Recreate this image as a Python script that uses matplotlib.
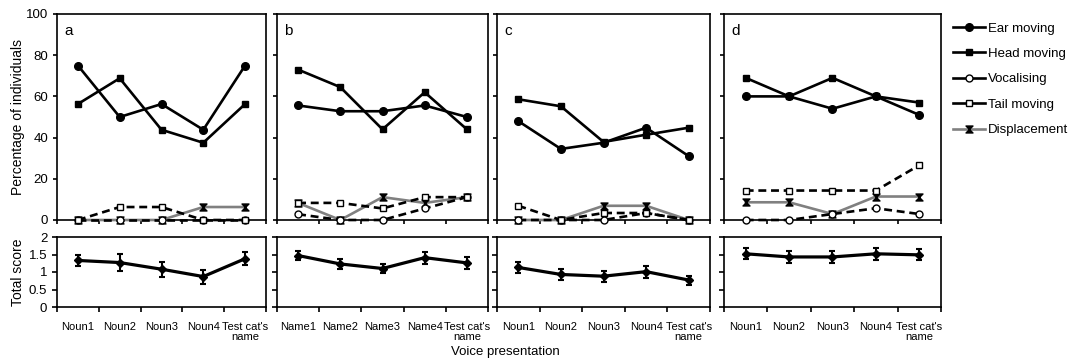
import matplotlib
matplotlib.use('Agg')
import matplotlib.pyplot as plt
import numpy as np
from matplotlib.path import Path
from matplotlib.lines import Line2D

plt.rcParams['font.family'] = ['Liberation Sans', 'DejaVu Sans']

# category labels per panel
labels_a = ['Noun1', 'Noun2', 'Noun3', 'Noun4', "Test cat's\nname"]
labels_b = ['Name1', 'Name2', 'Name3', 'Name4', "Test cat's\nname"]
labels_c = ['Noun1', 'Noun2', 'Noun3', 'Noun4', "Test cat's\nname"]
labels_d = ['Noun1', 'Noun2', 'Noun3', 'Noun4', "Test cat's\nname"]

# percentage of individuals (top row)
ear_a = [75, 50, 56.3, 43.8, 75]
head_a = [56.3, 68.8, 43.8, 37.5, 56.3]
voc_a = [0, 0, 0, 0, 0]
tail_a = [0, 6.3, 6.3, 0, 0]
disp_a = [0, 0, 0, 6.3, 6.3]

ear_b = [55.6, 52.8, 52.8, 55.6, 50]
head_b = [73, 64.5, 44, 62, 44]
voc_b = [2.8, 0, 0, 5.6, 11.1]
tail_b = [8.3, 8.3, 5.6, 11.1, 11.1]
disp_b = [8.3, 0, 11.1, 8.3, 11.1]

ear_c = [48, 34.5, 37.5, 44.8, 31]
head_c = [58.6, 55.2, 37.9, 41.4, 44.8]
voc_c = [0, 0, 0, 3.4, 0]
tail_c = [6.9, 0, 3.4, 3.4, 0]
disp_c = [0, 0, 6.9, 6.9, 0]

ear_d = [60, 60, 54, 60, 51]
head_d = [69, 60, 69, 60, 57]
voc_d = [0, 0, 2.9, 5.7, 2.9]
tail_d = [14.3, 14.3, 14.3, 14.3, 26.6]
disp_d = [8.6, 8.6, 2.9, 11.4, 11.4]

# total score (bottom row) mean and error
score_a = [1.33, 1.27, 1.08, 0.87, 1.38]
err_a = [0.17, 0.25, 0.22, 0.2, 0.18]
score_b = [1.47, 1.23, 1.1, 1.41, 1.26]
err_b = [0.13, 0.14, 0.14, 0.17, 0.16]
score_c = [1.13, 0.93, 0.88, 1.01, 0.77]
err_c = [0.15, 0.15, 0.16, 0.17, 0.13]
score_d = [1.52, 1.43, 1.43, 1.52, 1.49]
err_d = [0.16, 0.16, 0.16, 0.18, 0.16]

W, H = 1083, 364
fig = plt.figure(figsize=(W / 100, H / 100), dpi=100)

def px_axes(x0, y0, x1, y1):
    return fig.add_axes([x0 / W, 1 - y1 / H, (x1 - x0) / W, (y1 - y0) / H])

hourglass = Path([(-1, 1), (1, 1), (-1, -1), (1, -1), (-1, 1)],
                 [Path.MOVETO, Path.LINETO, Path.LINETO, Path.LINETO, Path.CLOSEPOLY])

lw = 1.9
styles = {
    'ear': dict(color='black', lw=lw, marker='o', ms=5.5, mfc='black', mec='black'),
    'head': dict(color='black', lw=lw, marker='s', ms=4.8, mfc='black', mec='black'),
    'voc': dict(color='black', lw=lw, ls=(0, (3, 1.8)), marker='o', ms=5, mfc='white', mec='black', mew=1),
    'tail': dict(color='black', lw=lw, ls=(0, (3, 1.8)), marker='s', ms=5, mfc='white', mec='black', mew=1),
    'disp': dict(color='#808080', lw=lw, marker=hourglass, ms=5, mfc='black', mec='black'),
}

top_pos = [(57, 14, 266, 220), (277, 14, 488, 220), (497, 14, 710, 220), (724, 14, 941, 220)]
bot_pos = [(57, 237, 266, 307), (277, 237, 488, 307), (497, 237, 710, 307), (724, 237, 941, 307)]

top_data = [
    (ear_a, head_a, voc_a, tail_a, disp_a),
    (ear_b, head_b, voc_b, tail_b, disp_b),
    (ear_c, head_c, voc_c, tail_c, disp_c),
    (ear_d, head_d, voc_d, tail_d, disp_d),
]
bot_data = [(score_a, err_a), (score_b, err_b), (score_c, err_c), (score_d, err_d)]
cat_labels = [labels_a, labels_b, labels_c, labels_d]
letters = ['a', 'b', 'c', 'd']
x = np.arange(5) + 0.5

for i in range(4):
    ax = px_axes(*top_pos[i])
    ear, head, voc, tail, disp = top_data[i]
    ax.plot(x, disp, clip_on=False, zorder=3, **styles['disp'])
    ax.plot(x, voc, clip_on=False, zorder=4, **styles['voc'])
    ax.plot(x, tail, clip_on=False, zorder=4, **styles['tail'])
    ax.plot(x, head, clip_on=False, zorder=5, **styles['head'])
    ax.plot(x, ear, clip_on=False, zorder=5, **styles['ear'])
    ax.set_xlim(0, 5)
    ax.set_ylim(0, 100)
    ax.set_xticks(np.arange(6))
    ax.set_xticklabels([])
    ax.set_yticks([0, 20, 40, 60, 80, 100])
    ax.tick_params(axis='both', direction='out', length=3, width=1.2, labelsize=9.5)
    if i > 0:
        ax.set_yticklabels([])
    for s in ax.spines.values():
        s.set_linewidth(1.2)
    ax.text(0.035, 0.95, letters[i], transform=ax.transAxes, fontsize=11, va='top', ha='left')

    bx = px_axes(*bot_pos[i])
    sc, er = bot_data[i]
    bx.errorbar(x, sc, yerr=er, color='black', lw=2.3, marker='D', ms=4,
                capsize=2.5, capthick=1.5, elinewidth=1.5)
    bx.set_xlim(0, 5)
    bx.set_ylim(0, 2)
    bx.set_yticks([0, 0.5, 1, 1.5, 2])
    bx.set_yticklabels(['0', '0.5', '1', '1.5', '2'])
    bx.set_xticks(np.arange(6))
    bx.set_xticklabels([])
    bx.set_xticks(x, minor=True)
    bx.set_xticklabels(cat_labels[i], minor=True, fontsize=8, linespacing=0.95)
    bx.tick_params(axis='x', which='minor', length=0, pad=11)
    bx.tick_params(axis='both', which='major', direction='out', length=3.5, width=1.2, labelsize=9.5)
    if i > 0:
        bx.set_yticklabels([])
    for s in bx.spines.values():
        s.set_linewidth(1.2)

fig.text(18 / W, 1 - 117 / H, 'Percentage of individuals', rotation=90, ha='center', va='center', fontsize=10)
fig.text(18 / W, 1 - 272 / H, 'Total score', rotation=90, ha='center', va='center', fontsize=10)
fig.text(505 / W, 1 - 352 / H, 'Voice presentation', ha='center', va='center', fontsize=9.5)

handles = [Line2D([], [], **styles[k]) for k in ['ear', 'head', 'voc', 'tail', 'disp']]
handles[2].set_linestyle('-')
handles[3].set_linestyle('-')
names = ['Ear moving', 'Head moving', 'Vocalising', 'Tail moving', 'Displacement']
fig.legend(handles, names, loc='upper left', bbox_to_anchor=(948 / W, 1 - 17 / H),
           frameon=False, fontsize=9.5, handlelength=2.4, handletextpad=0.2,
           labelspacing=1.0, borderaxespad=0)

fig.savefig('out.png', dpi=100)
